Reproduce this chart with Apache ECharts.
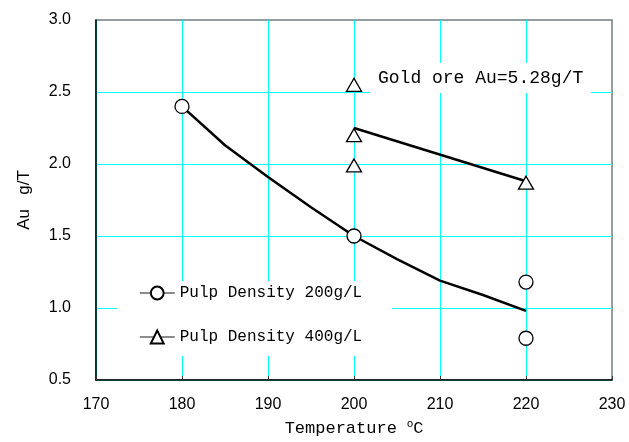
<!DOCTYPE html>
<html>
<head>
<meta charset="utf-8">
<script src="https://cdn.jsdelivr.net/npm/echarts@6/dist/echarts.min.js"></script>
<style>
  html, body { margin: 0; padding: 0; background: #fff; }
  #main { width: 629px; height: 442px; }
</style>
</head>
<body>
<div id="main"></div>
<script>
// measured points
var temps200 = [180, 200, 220, 220];
var au200 = [2.40, 1.50, 1.18, 0.79];
var temps400 = [200, 200, 200, 220];
var au400 = [2.55, 2.20, 1.99, 1.87];
// fitted lines
var fitTemps200 = [180, 185, 190, 195, 200, 205, 210, 215, 220];
var fitAu200 = [2.40, 2.13, 1.91, 1.70, 1.50, 1.34, 1.19, 1.09, 0.98];
var fitTemps400 = [200, 220];
var fitAu400 = [2.25, 1.88];
var xTicks = [170, 230, 10];
var yTicks = [0.5, 3.0, 0.5];

function pairs(xs, ys) {
    return xs.map(function (x, i) { return [x, ys[i]]; });
}

var mono = '"Liberation Mono", "DejaVu Sans Mono", monospace';
var sans = '"Liberation Sans", Arial, sans-serif';
var cyan = '#00ffff';

var myChart = echarts.init(document.getElementById('main'));
option = {
    animation: false,
    title: {
        text: 'Gold ore Au=5.28g/T',
        left: 370,
        top: 63,
        padding: [6, 8],
        backgroundColor: '#fff',
        textStyle: {
            fontFamily: mono,
            fontSize: 18,
            fontWeight: 'normal',
            color: '#000'
        }
    },
    legend: {
        orient: 'vertical',
        left: 117,
        top: 281,
        padding: [4, 30, 11, 22],
        backgroundColor: '#fff',
        itemGap: 28,
        itemWidth: 35,
        itemHeight: 16,
        lineStyle: {
            color: '#666',
            width: 1.5,
            opacity: 1
        },
        textStyle: {
            fontFamily: mono,
            fontSize: 16,
            color: '#000'
        },
        data: ['Pulp Density 200g/L', 'Pulp Density 400g/L']
    },
    grid: {
        left: 96,
        right: 17,
        top: 20,
        bottom: 62,
        show: true,
        borderColor: '#6f8080',
        borderWidth: 1.5
    },
    xAxis: {
        type: 'value',
        min: xTicks[0],
        max: xTicks[1],
        interval: xTicks[2],
        name: 'Temperature {s|o}C',
        nameLocation: 'middle',
        nameGap: 38,
        nameTextStyle: {
            fontFamily: mono,
            fontSize: 17,
            color: '#000',
            rich: {
                s: { fontFamily: sans, fontSize: 11, padding: [0, 0, 9, 0] }
            }
        },
        axisLine: { lineStyle: { color: '#000', width: 1.5 } },
        axisTick: { inside: true, length: 4, lineStyle: { color: '#333' } },
        axisLabel: { margin: 17, fontFamily: sans, fontSize: 16, color: '#000' },
        splitLine: { showMaxLine: false, lineStyle: { color: cyan, width: 1, opacity: 1 } }
    },
    yAxis: {
        type: 'value',
        min: yTicks[0],
        max: yTicks[1],
        interval: yTicks[2],
        name: 'Au   g/T',
        nameLocation: 'middle',
        nameGap: 63,
        nameTextStyle: { fontFamily: sans, fontSize: 17, color: '#000' },
        axisLine: { show: true, lineStyle: { color: '#000', width: 1.5 } },
        axisTick: { show: false },
        axisLabel: {
            margin: 25,
            fontFamily: sans,
            fontSize: 16,
            color: '#000',
            formatter: function (v) { return v.toFixed(1); }
        },
        splitLine: { showMaxLine: false, lineStyle: { color: cyan, width: 1, opacity: 1 } }
    },
    series: [{
        name: 'fit 200',
        type: 'line',
        symbol: 'none',
        lineStyle: { color: '#000', width: 2.5, join: 'round' },
        z: 3,
        data: pairs(fitTemps200, fitAu200)
    }, {
        name: 'fit 400',
        type: 'line',
        symbol: 'none',
        lineStyle: { color: '#000', width: 2.5 },
        z: 3,
        data: pairs(fitTemps400, fitAu400)
    }, {
        name: 'Pulp Density 200g/L',
        type: 'line',
        symbol: 'circle',
        symbolSize: 14,
        lineStyle: { width: 0, opacity: 0 },
        itemStyle: { color: '#fff', borderColor: '#000', borderWidth: 1.3 },
        z: 4,
        data: pairs(temps200, au200)
    }, {
        name: 'Pulp Density 400g/L',
        type: 'line',
        symbol: 'triangle',
        symbolSize: [15, 13],
        lineStyle: { width: 0, opacity: 0 },
        itemStyle: { color: '#fff', borderColor: '#000', borderWidth: 1.3 },
        z: 4,
        data: pairs(temps400, au400)
    }]
};

myChart.setOption(option);
window.onresize = myChart.resize;
</script>
</body>
</html>
